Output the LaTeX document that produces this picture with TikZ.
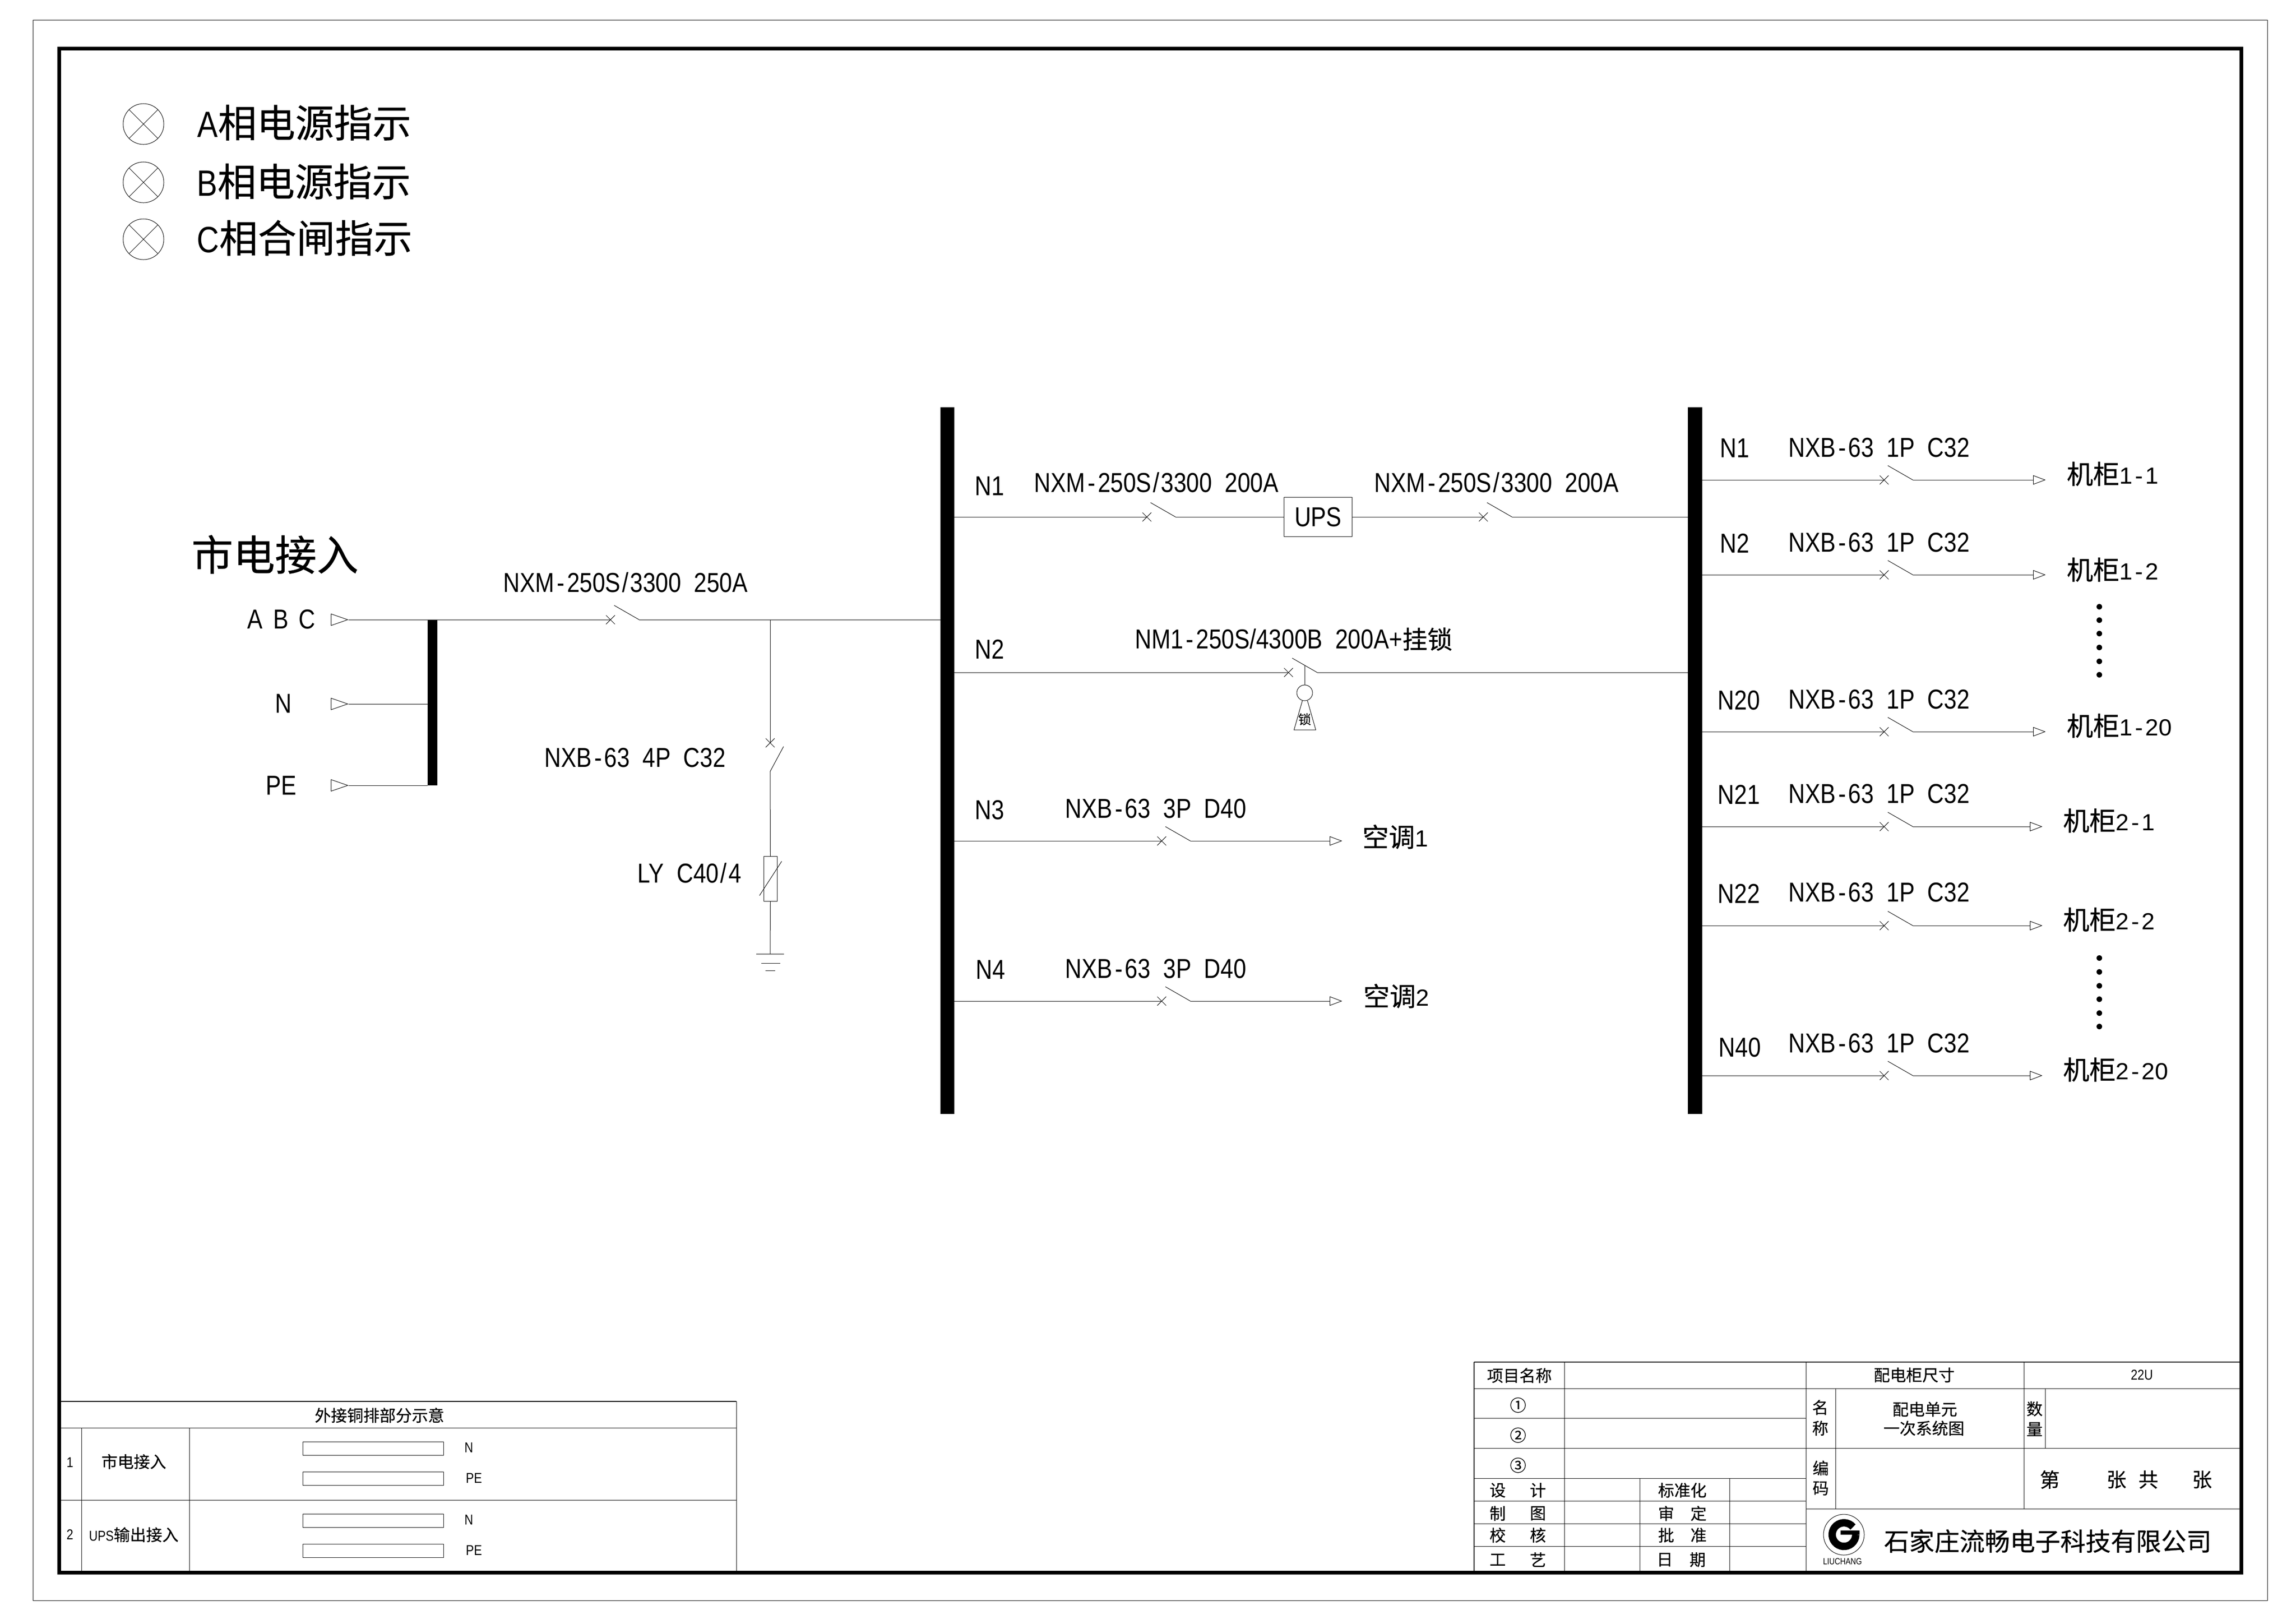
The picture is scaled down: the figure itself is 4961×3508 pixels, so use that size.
\documentclass[tikz,border=0pt]{standalone}
\usepackage{fontspec}
\setmainfont[FakeStretch=0.84]{Liberation Sans}
\newfontfamily\wide[FakeStretch=1.02]{Liberation Sans}
\newfontfamily\cjk[Scale=1.13,FakeBold=0.5]{Noto Sans CJK SC}
\usetikzlibrary{arrows.meta,shapes.misc}

\newcommand{\setpt}[1]{\fontsize{#1}{#1}\selectfont}
\newcommand{\zh}[1]{{\cjk #1}}
\newcommand{\hy}{\kern1.5pt-\kern1.5pt}
\newcommand{\slh}{\kern1pt/\kern1pt}

\tikzstyle{wire}=[line width=.01cm]
\tikzstyle{heavy}=[line width=.022cm]
\tikzstyle{feed}=[wire,-{Triangle[open,length=.27cm,width=.2cm]}]
\tikzstyle{port}=[wire,-{Triangle[open,length=.38cm,width=.26cm]}]
\tikzstyle{busbar}=[fill=black,inner sep=0pt,outer sep=0pt]
\tikzstyle{trip}=[draw,cross out,wire,inner sep=0pt,outer sep=0pt,minimum size=.19cm]
\tikzstyle{lamp}=[circle,draw,wire,inner sep=0pt,outer sep=0pt,minimum size=.88cm]
\tikzstyle{dotn}=[circle,fill=black,inner sep=0pt,minimum size=.12cm]
\tikzstyle{lab}=[anchor=west,inner sep=0pt,font=\setpt{16.8}]
\tikzstyle{dev}=[anchor=west,inner sep=0pt,font=\wide\setpt{14.3}]
\tikzstyle{big}=[anchor=west,inner sep=0pt,font=\setpt{21}]
\tikzstyle{tb}=[inner sep=0pt,font=\setpt{8.8}]

\newcommand{\brk}[3]{%
  \node[trip] (#1) at (#2,#3) {};
  \coordinate (#1b) at (#2+8,#3-31);
  \coordinate (#1e) at (#2+62,#3);
  \draw[wire] (#1b) -- (#1e);
}

\begin{document}
\begin{tikzpicture}[x=0.01cm,y=-0.01cm]
\useasboundingbox (0,0) rectangle (4961,3508);

% frames
\draw[wire] (71,43) rectangle (4899,3458);
\draw[line width=.085cm] (128,105) rectangle (4843,3398);

% indicators
\node[lamp] (la) at (310,268) {};
\node[lamp] (lb) at (310,394) {};
\node[lamp] (lc) at (310,517) {};
\draw[wire] (la.45) -- (la.225); \draw[wire] (la.135) -- (la.315);
\draw[wire] (lb.45) -- (lb.225); \draw[wire] (lb.135) -- (lb.315);
\draw[wire] (lc.45) -- (lc.225); \draw[wire] (lc.135) -- (lc.315);
\node[big] (ta) at (426,265) {{\setpt{22.5}A}\zh{相电源指示}};
\node[big] (tb1) at (425,392) {{\setpt{22.5}B}\zh{相电源指示}};
\node[big] (tc) at (425,514) {{\setpt{22.5}C}\zh{相合闸指示}};

% incoming
\node[anchor=west,inner sep=0pt,font=\setpt{22.7}] (src) at (413,1198) {\zh{市电接入}};
\node[lab] (pabc) at (534,1338) {A\hspace{6.4pt}B\hspace{6.4pt}C};
\node[lab] (pn) at (594,1520) {N};
\node[lab] (ppe) at (574,1697) {PE};
\coordinate (a0) at (715,1339); \coordinate (a1) at (753,1339);
\coordinate (n0) at (715,1521); \coordinate (n1) at (753,1521);
\coordinate (e0) at (715,1697); \coordinate (e1) at (753,1697);
\draw[port] (a0) -- (a1);
\draw[port] (n0) -- (n1);
\draw[port] (e0) -- (e1);
\node[busbar,minimum width=.21cm,minimum height=3.58cm] (bus0) at (934,1518) {};
\node[busbar,minimum width=.305cm,minimum height=15.27cm] (bus1) at (2047,1643.5) {};
\node[busbar,minimum width=.315cm,minimum height=15.27cm] (bus2) at (3662.5,1643.5) {};
\draw[wire] (n1) -- (bus0.west |- n1);
\draw[wire] (e1) -- (bus0.west |- e1);
\brk{s0}{1319}{1339}
\draw[wire] (a1) -- (s0.center);
\draw[wire] (s0e) -- (bus1.west |- s0e);
\node[lab] (s0t) at (1087,1258) {NXM\hy 250S\slh 3300~~250A};

% surge branch
\coordinate (j1) at (1664,1339);
\node[trip] (s5) at (1664,1605) {};
\coordinate (s5b) at (1693,1613); \coordinate (s5e) at (1664,1667);
\draw[wire] (j1) -- (s5.center);
\draw[wire] (s5b) -- (s5e);
\node[draw,wire,inner sep=0pt,minimum width=.29cm,minimum height=.97cm] (fu) at (1664.5,1899) {};
\draw[wire] (s5e) -- (fu.north);
\draw[wire] (1689,1861) -- (1641,1935);
\coordinate (g1) at (1664,2061);
\draw[wire] (fu.south) -- (g1);
\draw[wire] (1634,2061) -- (1694,2061);
\draw[wire] (1645,2081) -- (1686,2081);
\draw[wire] (1654,2097) -- (1675,2097);
\node[lab] (s5t) at (1176,1637) {NXB\hy 63~~4P~~C32};
\node[lab] (fut) at (1377,1886) {LY~~C40\slh 4};

% first bus outgoing
\node[lab] (b1) at (2106,1050) {N1};
\node[lab] (b2) at (2106,1403) {N2};
\node[lab] (b3) at (2106,1750) {N3};
\node[lab] (b4) at (2108,2095) {N4};
\node[draw,wire,inner sep=0pt,minimum width=1.47cm,minimum height=.84cm,font=\setpt{16.8}] (ups) at (2848,1117) {UPS};
\brk{s1}{2478}{1117}
\brk{s2}{3205}{1117}
\draw[wire] (bus1.east |- s1) -- (s1.center);
\draw[wire] (s1e) -- (ups.west);
\draw[wire] (ups.east) -- (s2.center);
\draw[wire] (s2e) -- (bus2.west |- s2e);
\node[lab] (s1t) at (2234,1042) {NXM\hy 250S\slh 3300~~200A};
\node[lab] (s2t) at (2969,1042) {NXM\hy 250S\slh 3300~~200A};

\brk{s3}{2784}{1453}
\draw[wire] (bus1.east |- s3) -- (s3.center);
\draw[wire] (s3e) -- (bus2.west |- s3e);
\node[lab] (s3t) at (2452,1381) {NM1\hy 250S/4300B~~200A+{\setpt{13.6}\zh{挂锁}}};
\node[circle,draw,wire,inner sep=0pt,minimum size=.34cm] (lk) at (2819,1497) {};
\coordinate (lk0) at (2819,1437);
\draw[wire] (lk0) -- (lk.north);
\draw[wire] (2814,1514) -- (2796,1577) -- (2843,1577) -- (2825,1514);
\node[inner sep=0pt,font=\setpt{7}] (lkt) at (2819,1554) {\zh{锁}};

\brk{s6}{2510}{1817}
\coordinate (t6) at (2900,1817);
\draw[wire] (bus1.east |- s6) -- (s6.center);
\draw[feed] (s6e) -- (t6);
\node[lab] (s6t) at (2301,1747) {NXB\hy 63~~3P~~D40};
\node[dev] (k1) at (2943,1808) {\zh{空调}1};

\brk{s7}{2510}{2163}
\coordinate (t7) at (2900,2163);
\draw[wire] (bus1.east |- s7) -- (s7.center);
\draw[feed] (s7e) -- (t7);
\node[lab] (s7t) at (2301,2093) {NXB\hy 63~~3P~~D40};
\node[dev] (k2) at (2945,2152) {\zh{空调}2};

% second bus outgoing
\brk{r1}{4071}{1037}
\coordinate (u1) at (4420,1037);
\draw[wire] (bus2.east |- r1) -- (r1.center);
\draw[feed] (r1e) -- (u1);
\node[lab] (c1) at (3716,968) {N1};
\node[lab] (r1t) at (3864,967) {NXB\hy 63~~1P~~C32};
\node[dev] (m1) at (4465,1024) {\zh{机柜}1\hy 1};

\brk{r2}{4071}{1242}
\coordinate (u2) at (4420,1242);
\draw[wire] (bus2.east |- r2) -- (r2.center);
\draw[feed] (r2e) -- (u2);
\node[lab] (c2) at (3716,1174) {N2};
\node[lab] (r2t) at (3864,1172) {NXB\hy 63~~1P~~C32};
\node[dev] (m2) at (4465,1231) {\zh{机柜}1\hy 2};

\brk{r3}{4071}{1581}
\coordinate (u3) at (4420,1581);
\draw[wire] (bus2.east |- r3) -- (r3.center);
\draw[feed] (r3e) -- (u3);
\node[lab] (c3) at (3711,1513) {N20};
\node[lab] (r3t) at (3864,1511) {NXB\hy 63~~1P~~C32};
\node[dev] (m3) at (4465,1568) {\zh{机柜}1\hy 20};

\brk{r4}{4071}{1786}
\coordinate (u4) at (4413,1786);
\draw[wire] (bus2.east |- r4) -- (r4.center);
\draw[feed] (r4e) -- (u4);
\node[lab] (c4) at (3711,1717) {N21};
\node[lab] (r4t) at (3864,1715) {NXB\hy 63~~1P~~C32};
\node[dev] (m4) at (4457,1773) {\zh{机柜}2\hy 1};

\brk{r5}{4071}{2000}
\coordinate (u5) at (4413,2000);
\draw[wire] (bus2.east |- r5) -- (r5.center);
\draw[feed] (r5e) -- (u5);
\node[lab] (c5) at (3711,1931) {N22};
\node[lab] (r5t) at (3864,1928) {NXB\hy 63~~1P~~C32};
\node[dev] (m5) at (4457,1987) {\zh{机柜}2\hy 2};

\brk{r6}{4071}{2324}
\coordinate (u6) at (4413,2324);
\draw[wire] (bus2.east |- r6) -- (r6.center);
\draw[feed] (r6e) -- (u6);
\node[lab] (c6) at (3713,2263) {N40};
\node[lab] (r6t) at (3864,2254) {NXB\hy 63~~1P~~C32};
\node[dev] (m6) at (4457,2311) {\zh{机柜}2\hy 20};

% dots
\node[dotn] (d1) at (4536,1311) {};
\node[dotn] (d2) at (4536,1340) {};
\node[dotn] (d3) at (4536,1369) {};
\node[dotn] (d4) at (4536,1399) {};
\node[dotn] (d5) at (4536,1429) {};
\node[dotn] (d6) at (4536,1458) {};
\node[dotn] (d7) at (4536,2070) {};
\node[dotn] (d8) at (4536,2100) {};
\node[dotn] (d9) at (4536,2130) {};
\node[dotn] (d10) at (4536,2159) {};
\node[dotn] (d11) at (4536,2189) {};
\node[dotn] (d12) at (4536,2218) {};

% copper bar table
\draw[heavy] (128,3028) -- (1591,3028);
\draw[wire] (128,3085) -- (1591,3085);
\draw[wire] (128,3241) -- (1591,3241);
\draw[wire] (1591,3028) -- (1591,3398);
\draw[wire] (176,3085) -- (176,3398);
\draw[wire] (409,3085) -- (409,3398);
\node[tb] (t0) at (820,3058) {\zh{外接铜排部分示意}};
\node[tb] (t1) at (151,3160) {1};
\node[tb] (t2) at (151,3316) {2};
\node[tb] (t3) at (289,3158) {\zh{市电接入}};
\node[tb] (t4) at (289,3316) {UPS\zh{输出接入}};
\draw[wire] (654,3115) rectangle (958,3144);
\draw[wire] (654,3180) rectangle (958,3209);
\draw[wire] (654,3271) rectangle (958,3300);
\draw[wire] (654,3336) rectangle (958,3365);
\node[tb,anchor=west] (t5) at (1003,3128) {N};
\node[tb,anchor=west] (t6) at (1006,3194) {PE};
\node[tb,anchor=west] (t7) at (1003,3284) {N};
\node[tb,anchor=west] (t8) at (1006,3350) {PE};

% title block
\draw[heavy] (3185,2943) -- (4843,2943);
\draw[heavy] (3185,2943) -- (3185,3398);
\draw[wire] (3380,2943) -- (3380,3398);
\draw[wire] (3902,2943) -- (3902,3398);
\draw[wire] (4373,2943) -- (4373,3260);
\draw[wire] (3966,3000) -- (3966,3260);
\draw[wire] (4419,3000) -- (4419,3129);
\draw[wire] (3543,3194) -- (3543,3398);
\draw[wire] (3737,3194) -- (3737,3398);
\draw[wire] (3185,3000) -- (4843,3000);
\draw[wire] (3185,3064) -- (3902,3064);
\draw[wire] (3185,3129) -- (4843,3129);
\draw[wire] (3185,3194) -- (3902,3194);
\draw[wire] (3185,3243) -- (3902,3243);
\draw[wire] (3902,3260) -- (4843,3260);
\draw[wire] (3185,3292) -- (3902,3292);
\draw[wire] (3185,3341) -- (3902,3341);

\node[tb] (h1) at (3283,2972) {\zh{项目名称}};
\node[tb] (h2) at (4136,2971) {\zh{配电柜尺寸}};
\node[tb] (h3) at (4628,2971) {22U};
\node[tb] (o1) at (3280,3036) {\zh{①}};
\node[tb] (o2) at (3280,3101) {\zh{②}};
\node[tb] (o3) at (3280,3166) {\zh{③}};
\node[tb] (w1) at (3933,3041) {\zh{名}};
\node[tb] (w2) at (3933,3086) {\zh{称}};
\node[tb] (w3) at (4159,3045) {\zh{配电单元}};
\node[tb] (w4) at (4157,3086) {\zh{一次系统图}};
\node[tb] (w5) at (4396,3044) {\zh{数}};
\node[tb] (w6) at (4396,3088) {\zh{量}};
\node[tb] (w7) at (3934,3172) {\zh{编}};
\node[tb] (w8) at (3934,3216) {\zh{码}};
\node[tb] (q1) at (3236,3220) {\zh{设}};
\node[tb] (q2) at (3323,3220) {\zh{计}};
\node[tb] (q3) at (3236,3270) {\zh{制}};
\node[tb] (q4) at (3323,3270) {\zh{图}};
\node[tb] (q5) at (3236,3317) {\zh{校}};
\node[tb] (q6) at (3323,3317) {\zh{核}};
\node[tb] (q7) at (3236,3370) {\zh{工}};
\node[tb] (q8) at (3323,3370) {\zh{艺}};
\node[tb] (q9) at (3635,3220) {\zh{标准化}};
\node[tb] (q10) at (3600,3270) {\zh{审}};
\node[tb] (q11) at (3670,3270) {\zh{定}};
\node[tb] (q12) at (3600,3317) {\zh{批}};
\node[tb] (q13) at (3670,3317) {\zh{准}};
\node[tb] (q14) at (3597,3370) {\zh{日}};
\node[tb] (q15) at (3668,3370) {\zh{期}};
\node[tb,font=\setpt{10.8}] (z1) at (4429,3197) {\zh{第}};
\node[tb,font=\setpt{10.8}] (z2) at (4573,3197) {\zh{张}};
\node[tb,font=\setpt{10.8}] (z3) at (4642,3197) {\zh{共}};
\node[tb,font=\setpt{10.8}] (z4) at (4758,3197) {\zh{张}};

% logo
\draw[wire] (3984,3316) circle[radius=44];
\draw[line width=.16cm] (4003.8,3299.4) arc[start angle=-40,end angle=-360,radius=25.5];
\fill (3977,3307) rectangle (4018,3316);
\node[tb,font=\setpt{5.5}] (lg) at (3981,3374) {LIUCHANG};
\node[anchor=west,inner sep=0pt,font=\setpt{13.7}] (co) at (4070,3330) {\zh{石家庄流畅电子科技有限公司}};
\end{tikzpicture}
\end{document}
